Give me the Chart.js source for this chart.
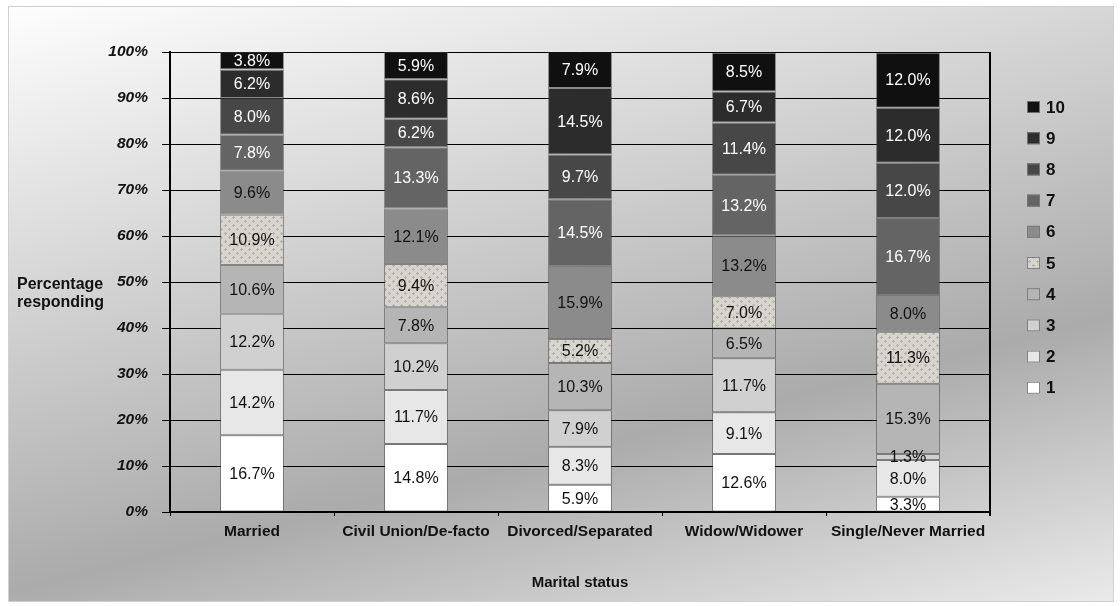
<!DOCTYPE html>
<html>
<head>
<meta charset="utf-8">
<script src="https://cdn.jsdelivr.net/npm/chart.js@4/dist/chart.umd.min.js"></script>
<style>
html,body{margin:0;padding:0;background:#ffffff;}
#wrap{width:1120px;height:606px;position:relative;}
</style>
</head>
<body>
<div id="wrap"><canvas id="c" width="1120" height="606"></canvas></div>
<script>
// ---- data ----
const categories = ['Married', 'Civil Union/De-facto', 'Divorced/Separated', 'Widow/Widower', 'Single/Never Married'];
const ratingNames = ['1', '2', '3', '4', '5', '6', '7', '8', '9', '10'];
const rating1  = [16.7, 14.8, 5.9, 12.6, 3.3];
const rating2  = [14.2, 11.7, 8.3, 9.1, 8.0];
const rating3  = [12.2, 10.2, 7.9, 11.7, 1.3];
const rating4  = [10.6, 7.8, 10.3, 6.5, 15.3];
const rating5  = [10.9, 9.4, 5.2, 7.0, 11.3];
const rating6  = [9.6, 12.1, 15.9, 13.2, 8.0];
const rating7  = [7.8, 13.3, 14.5, 13.2, 16.7];
const rating8  = [8.0, 6.2, 9.7, 11.4, 12.0];
const rating9  = [6.2, 8.6, 14.5, 6.7, 12.0];
const rating10 = [3.8, 5.9, 7.9, 8.5, 12.0];
const yTickValues = [0, 10, 20, 30, 40, 50, 60, 70, 80, 90, 100];
const xTitle = 'Marital status';
const yTitleLines = ['Percentage', 'responding'];

// ---- styles ----
const seriesValues = [rating1, rating2, rating3, rating4, rating5, rating6, rating7, rating8, rating9, rating10];
const baseColors = ['#ffffff', '#e7e7e7', '#d0d0d0', '#b5b5b5', 'PATTERN', '#8b8b8b', '#646464', '#474747', '#2c2c2c', '#101010'];
const labelColors = ['#111', '#111', '#111', '#111', '#111', '#111', '#fff', '#fff', '#fff', '#fff'];

function makePattern() {
  const pc = document.createElement('canvas');
  pc.width = 8; pc.height = 8;
  const g = pc.getContext('2d');
  g.fillStyle = '#d8d5cf';
  g.fillRect(0, 0, 8, 8);
  g.fillStyle = '#b3b0a9';
  g.fillRect(0, 1, 3, 1); g.fillRect(1, 0, 1, 3);
  g.fillRect(4, 5, 3, 1); g.fillRect(5, 4, 1, 3);
  return document.getElementById('c').getContext('2d').createPattern(pc, 'repeat');
}
const dotPattern = makePattern();
const fills = baseColors.map(c => c === 'PATTERN' ? dotPattern : c);

const datasets = seriesValues.map((vals, i) => ({
  label: ratingNames[i],
  data: vals,
  backgroundColor: fills[i],
  borderColor: 'rgba(70,70,70,0.55)',
  borderWidth: 1,
  borderSkipped: false,
  categoryPercentage: 1.0,
  barPercentage: 0.39
}));

const bgPlugin = {
  id: 'bg',
  beforeDraw(chart) {
    const ctx = chart.ctx;
    ctx.save();
    ctx.fillStyle = '#ffffff';
    ctx.fillRect(0, 0, chart.width, chart.height);
    const g = ctx.createLinearGradient(0, 0, 250, 1000);
    g.addColorStop(0, '#ffffff');
    g.addColorStop(0.56, '#ababab');
    g.addColorStop(0.86, '#f2f2f2');
    g.addColorStop(1, '#ffffff');
    ctx.fillStyle = g;
    ctx.fillRect(8, 6, 1106, 596);
    ctx.strokeStyle = '#d0d0d0';
    ctx.lineWidth = 1;
    ctx.strokeRect(8.5, 6.5, 1105, 595);
    ctx.restore();
  },
  beforeDatasetsDraw(chart) {
    const ctx = chart.ctx, a = chart.chartArea;
    ctx.save();
    ctx.strokeStyle = '#000';
    ctx.lineWidth = 2;
    ctx.beginPath();
    ctx.moveTo(a.right, a.top);
    ctx.lineTo(a.right, a.bottom + 4);
    ctx.stroke();
    ctx.restore();
  },
  afterDatasetsDraw(chart) {
    const ctx = chart.ctx;
    ctx.save();
    ctx.font = '16px "Liberation Sans", Arial, sans-serif';
    ctx.textAlign = 'center';
    ctx.textBaseline = 'middle';
    chart.data.datasets.forEach((ds, di) => {
      const meta = chart.getDatasetMeta(di);
      meta.data.forEach((el, i) => {
        const v = ds.data[i];
        const cy = (el.y + el.base) / 2;
        ctx.fillStyle = labelColors[di];
        ctx.fillText(v.toFixed(1) + '%', el.x, cy + 1);
      });
    });
    // y title (horizontal)
    ctx.fillStyle = '#111';
    ctx.font = 'bold 16px "Liberation Sans", Arial, sans-serif';
    ctx.textAlign = 'left';
    yTitleLines.forEach((t, k) => ctx.fillText(t, 17, 285 + k * 18));
    // legend (10 at top)
    ctx.font = 'bold 17px "Liberation Sans", Arial, sans-serif';
    for (let k = 0; k < ratingNames.length; k++) {
      const idx = ratingNames.length - 1 - k;
      const y = 107 + k * 31.2;
      ctx.fillStyle = fills[idx];
      ctx.fillRect(1027, y - 6, 13, 12);
      ctx.strokeStyle = 'rgba(120,120,120,0.9)';
      ctx.lineWidth = 1;
      ctx.strokeRect(1027.5, y - 5.5, 12, 11);
      ctx.fillStyle = '#111';
      ctx.fillText(ratingNames[idx], 1046, y + 1);
    }
    ctx.restore();
  }
};

new Chart(document.getElementById('c'), {
  type: 'bar',
  data: { labels: categories, datasets: datasets },
  options: {
    responsive: false,
    animation: false,
    devicePixelRatio: 1,
    layout: { padding: { left: 0, right: 130, top: 52, bottom: 0 } },
    plugins: { legend: { display: false }, tooltip: { enabled: false }, title: { display: false } },
    scales: {
      x: {
        stacked: true,
        grid: { display: true, drawOnChartArea: false, drawTicks: true, tickLength: 4, color: '#000', offset: true },
        border: { display: true, color: '#000', width: 2 },
        ticks: {
          color: '#111', autoSkip: false, maxRotation: 0, padding: 6,
          font: { family: '"Liberation Sans", Arial, sans-serif', size: 15.5, weight: 'bold' }
        },
        title: {
          display: true, text: xTitle, color: '#111', padding: { top: 0, bottom: 14 },
          font: { family: '"Liberation Sans", Arial, sans-serif', size: 15, weight: 'bold' }
        },
        afterFit(s) { s.height = 94; }
      },
      y: {
        stacked: true,
        min: 0, max: 100,
        afterBuildTicks(s) { s.ticks = yTickValues.map(v => ({ value: v })); },
        grid: { color: '#000', lineWidth: 1, tickLength: 8, drawTicks: true },
        border: { display: true, color: '#000', width: 2 },
        ticks: {
          color: '#111', padding: 14,
          font: { family: '"Liberation Sans", Arial, sans-serif', size: 15.5, weight: 'bold', style: 'italic' },
          callback: v => v + '%'
        },
        afterFit(s) { s.width = 170; }
      }
    }
  },
  plugins: [bgPlugin]
});
</script>
</body>
</html>
